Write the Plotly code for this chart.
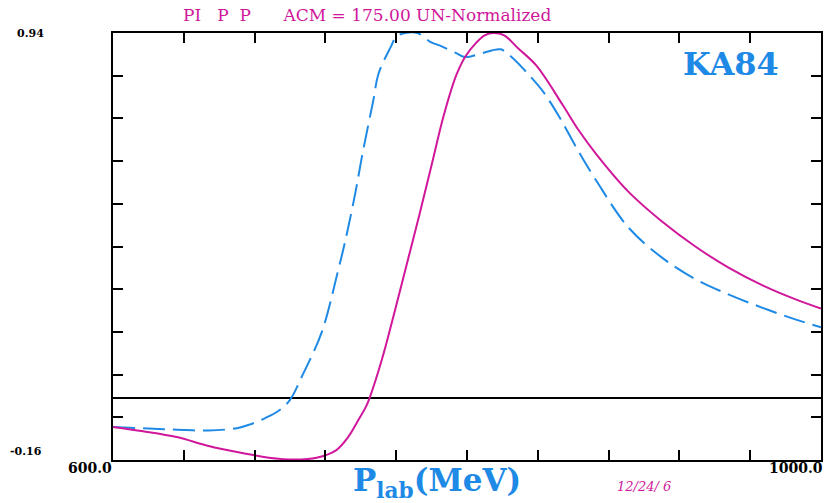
import plotly.graph_objects as go

# Blue dashed curve
blue_x = [600, 620, 636, 654, 670, 677, 686, 694, 700, 707, 718, 727, 731, 737, 741,
          747, 750, 757, 760, 765, 772, 779, 786, 794, 799, 807, 814, 819, 825, 835,
          843, 852, 863, 873, 891, 910, 929, 948, 967, 985, 1000]
blue_y = [-0.075, -0.079, -0.082, -0.084, -0.078, -0.069, -0.052, -0.032, -0.005, 0.058,
          0.17, 0.325, 0.40, 0.53, 0.63, 0.765, 0.835, 0.905, 0.93, 0.94, 0.94, 0.918,
          0.905, 0.888, 0.878, 0.886, 0.895, 0.898, 0.879, 0.832, 0.789, 0.725, 0.635,
          0.56, 0.44, 0.362, 0.306, 0.266, 0.232, 0.203, 0.182]

# Magenta solid curve
mag_x = [600, 617, 636, 654, 673, 688, 703, 715, 726, 733, 738, 743, 745, 752, 759, 766,
         773, 780, 787, 794, 799, 805, 810, 815, 821, 829, 839, 854, 863, 873, 891, 910,
         929, 948, 967, 985, 1000]
mag_y = [-0.075, -0.086, -0.101, -0.124, -0.142, -0.154, -0.159, -0.154, -0.135, -0.100,
         -0.062, -0.022, 0.0, 0.1, 0.22, 0.345, 0.47, 0.6, 0.73, 0.832, 0.879,
         0.914, 0.934, 0.94, 0.934, 0.90, 0.857, 0.755, 0.69, 0.628, 0.532, 0.455,
         0.39, 0.335, 0.29, 0.255, 0.23]

x_range = [600, 1000]
y_range = [-0.16, 0.94]
x_ticks = [640, 680, 720, 760, 800, 840, 880, 920, 960]
y_ticks = [round(-0.16 + 0.11 * k, 3) for k in range(1, 10)]

MAG = "#d0179b"
BLUE = "#1f8ae6"

fig = go.Figure()
fig.add_trace(go.Scatter(x=blue_x, y=blue_y, mode="lines",
                         line=dict(color=BLUE, width=2, dash="22px,8px",
                                   shape="spline", smoothing=1.0),
                         showlegend=False, hoverinfo="skip"))
fig.add_trace(go.Scatter(x=mag_x, y=mag_y, mode="lines",
                         line=dict(color=MAG, width=2, shape="spline", smoothing=1.0),
                         showlegend=False, hoverinfo="skip"))

L, R, T, B = 113, 7, 33, 43
W, H = 830, 503
pw, ph = W - L - R, H - T - B

def px(xp):
    return (xp - L) / pw

def py(yp):
    return (H - B - yp) / ph

fig.update_layout(
    width=W, height=H,
    margin=dict(l=L, r=R, t=T, b=B),
    paper_bgcolor="white", plot_bgcolor="white",
    xaxis=dict(range=x_range, tickvals=x_ticks, ticks="inside", ticklen=10,
               tickwidth=1.5, tickcolor="black", showticklabels=False,
               showgrid=False, zeroline=False, showline=True, linecolor="black",
               linewidth=2, mirror="ticks"),
    yaxis=dict(range=y_range, tickvals=y_ticks, ticks="inside", ticklen=10,
               tickwidth=1.5, tickcolor="black", showticklabels=False,
               showgrid=False, zeroline=True, zerolinecolor="black",
               zerolinewidth=1.5, showline=True, linecolor="black",
               linewidth=2, mirror="ticks"),
)

NB = "\u00a0"
title = "PI" + NB * 3 + "P" + NB * 2 + "P" + NB * 6 + "ACM = 175.00 UN-Normalized"
ann = [
    dict(text=title, x=px(368), y=py(15), xanchor="center", yanchor="middle",
         font=dict(family="DejaVu Serif", size=17, color=MAG)),
    dict(text="<b>KA84</b>", x=px(733), y=py(64), xanchor="center", yanchor="middle",
         font=dict(family="DejaVu Serif", size=32, color=BLUE)),
    dict(text="<b>P<sub>lab</sub>(MeV)</b>", x=px(438), y=py(482), xanchor="center",
         yanchor="middle", font=dict(family="DejaVu Serif", size=31, color=BLUE)),
    dict(text="<i>12/24/ 6</i>", x=px(646), y=py(486), xanchor="center", yanchor="middle",
         font=dict(family="DejaVu Serif", size=13, color=MAG)),
    dict(text="<b>600.0</b>", x=px(114), y=py(468), xanchor="right", yanchor="middle",
         font=dict(family="DejaVu Serif", size=14, color="black")),
    dict(text="<b>1000.0</b>", x=px(827), y=py(468), xanchor="right", yanchor="middle",
         font=dict(family="DejaVu Serif", size=14, color="black")),
    dict(text="<b>0.94</b>", x=px(15), y=py(33), xanchor="left", yanchor="middle",
         font=dict(family="DejaVu Serif", size=11, color="black")),
    dict(text="<b>-0.16</b>", x=px(8), y=py(451), xanchor="left", yanchor="middle",
         font=dict(family="DejaVu Serif", size=11, color="black")),
]
for a in ann:
    a.update(xref="paper", yref="paper", showarrow=False)
fig.update_layout(annotations=ann)

fig.write_html("out.html")
